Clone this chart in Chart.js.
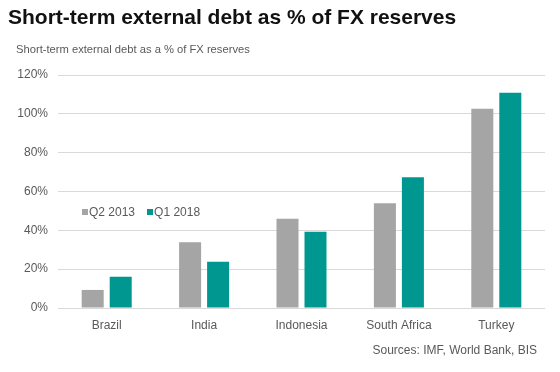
<!DOCTYPE html>
<html>
<head>
<meta charset="utf-8">
<script src="https://cdn.jsdelivr.net/npm/chart.js@4"></script>
<style>
  html, body { margin: 0; padding: 0; background: #fff; }
  body { width: 560px; height: 372px; position: relative; overflow: hidden; font-family: "Liberation Sans", Arial, sans-serif; }
  #title { position: absolute; left: 8px; top: 5px; font-size: 21px; font-weight: bold; color: #111; white-space: nowrap; }
  #subtitle { position: absolute; left: 16px; top: 43px; font-size: 11.2px; color: #595959; white-space: nowrap; }
  #source { position: absolute; right: 23px; top: 343px; font-size: 12px; color: #595959; white-space: nowrap; }
  #legend { position: absolute; left: 82px; top: 205px; font-size: 12px; color: #595959; white-space: nowrap; }
  #legend span.sw { display: inline-block; width: 6px; height: 6px; margin-right: 1px; vertical-align: 1px; }
  #legend span.item { margin-right: 12px; }
  #wrap { position: absolute; left: 0; top: 0; width: 560px; height: 372px; }
</style>
</head>
<body>
<div id="wrap"><canvas id="chart" width="560" height="372"></canvas></div>
<div id="title">Short-term external debt as % of FX reserves</div>
<div id="subtitle">Short-term external debt as a % of FX reserves</div>
<div id="legend"></div>
<div id="source">Sources: IMF, World Bank, BIS</div>
<script>
// data
const countries = ['Brazil', 'India', 'Indonesia', 'South Africa', 'Turkey'];
const q2_2013 = [9.3, 33.8, 46.0, 53.9, 102.6];
const q1_2018 = [16.1, 23.8, 39.3, 67.3, 110.9];
const seriesNames = ['Q2 2013', 'Q1 2018'];
const seriesColors = ['#a5a5a5', '#009790'];
const yTicks = [0, 20, 40, 60, 80, 100, 120];

// legend (sits inside the plot in the original)
document.getElementById('legend').innerHTML = seriesNames.map((n, i) =>
  `<span class="item"><span class="sw" style="background:${seriesColors[i]}"></span>${n}</span>`
).join('');

const textColor = '#595959';
const font = { family: '"Liberation Sans", Arial, sans-serif', size: 12 };

new Chart(document.getElementById('chart').getContext('2d'), {
  type: 'bar',
  data: {
    labels: countries,
    datasets: [
      { label: seriesNames[0], data: q2_2013, backgroundColor: seriesColors[0] },
      { label: seriesNames[1], data: q1_2018, backgroundColor: seriesColors[1] }
    ]
  },
  options: {
    responsive: false,
    animation: false,
    categoryPercentage: 0.575,
    barPercentage: 0.786,
    layout: { padding: { top: 75, right: 15, bottom: 0, left: 0 } },
    plugins: { legend: { display: false }, tooltip: { enabled: false } },
    scales: {
      x: {
        grid: { display: false },
        border: { display: false },
        ticks: { color: textColor, font, padding: 2 },
        afterFit: s => { s.height = 64; }
      },
      y: {
        min: 0,
        max: 120,
        afterBuildTicks: s => { s.ticks = yTicks.map(v => ({ value: v })); },
        grid: { color: '#d9d9d9', lineWidth: 1, drawTicks: false },
        border: { display: false },
        ticks: { color: textColor, font, padding: 10, callback: v => v + '%' },
        afterFit: s => { s.width = 58; }
      }
    }
  }
});
</script>
</body>
</html>
